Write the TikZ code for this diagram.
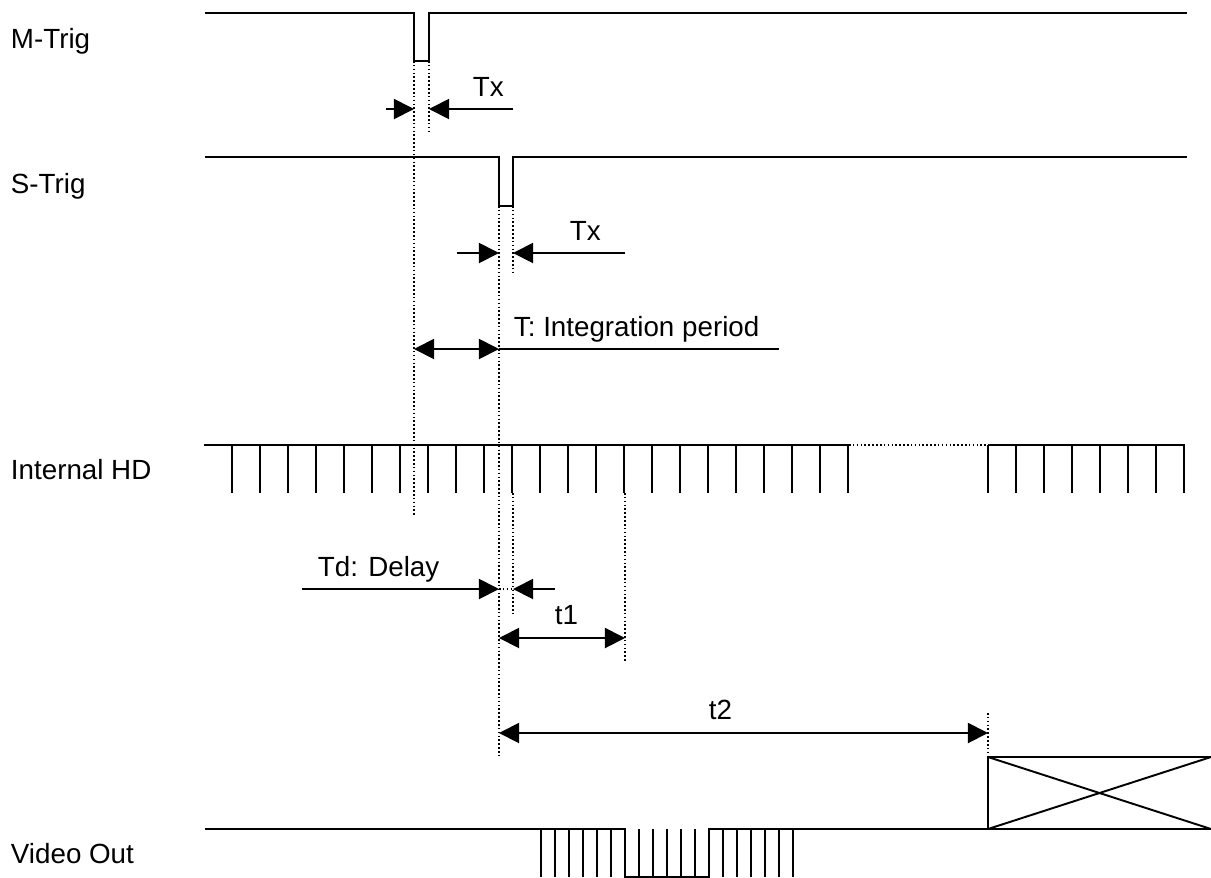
\documentclass[tikz,border=0pt]{standalone}
\usepackage{fontspec}
\setmainfont{Liberation Sans}
\usetikzlibrary{arrows.meta}

\begin{document}
\begin{tikzpicture}[x=0.02cm,y=-0.02cm,line width=1.1pt,>={Triangle[length=11.5pt,width=11.5pt]}]
   \useasboundingbox (0,0) rectangle (1211,877);
   \tikzstyle{label}=[anchor=base west, inner sep=0pt, font=\fontsize{15.8}{18}\selectfont]
   \tikzstyle{guide}=[dash pattern=on 0.9pt off 1.3pt, line width=0.9pt]
   \node[label] (mtrig) at (10,48) {M-Trig};
   \node[label] (strig) at (10,193) {S-Trig};
   \node[label] (hd) at (10,479) {Internal HD};
   \node[label] (video) at (10,863) {Video Out};
   \draw (205,13) -- (414,13) -- (414,61) -- (429,61) -- (429,13) -- (1187,13);
   \draw (205,157) -- (499,157) -- (499,206) -- (513,206) -- (513,157) -- (1187,157);
   \draw[guide] (414,61) -- (414,515);
   \draw[guide] (429,61) -- (429,131);
   \draw[guide] (499,206) -- (499,755);
   \draw[guide] (513,206) -- (513,275);
   \draw[guide] (513,493) -- (513,613);
   \draw[guide] (625,493) -- (625,662);
   \draw[guide] (988,713) -- (988,757);
   \node[label] (tx1) at (472,96) {Tx};
   \draw[->] (386,109) -- (414,109);
   \draw[->] (513,109) -- (429,109);
   \node[label] (tx2) at (569,240) {Tx};
   \draw[->] (457,253) -- (499,253);
   \draw[->] (625,253) -- (513,253);
   \node[label] (integ) at (513,336) {T: Integration period};
   \draw[<->] (414,349) -- (499,349);
   \draw (499,349) -- (779,349);
   \draw (204,445) -- (849,445);
   \foreach \i in {1,...,23} \draw (204+28*\i,445) -- (204+28*\i,493);
   \draw[guide] (849,445) -- (988,445);
   \draw (988,445) -- (1185,445);
   \foreach \i in {0,...,7} \draw (988+28*\i,445) -- (988+28*\i,493);
   \node[label] (delay) at (317,576) {Td: Delay};
   \draw[->] (302,589) -- (499,589);
   \draw[->] (555,589) -- (513,589);
   \draw[guide] (499,589) -- (513,589);
   \node[label] (t1) at (554,624) {t1};
   \draw[<->] (499,638) -- (625,638);
   \node[label] (t2) at (708,719) {t2};
   \draw[<->] (499,733) -- (988,733);
   \draw (205,829) -- (625,829) -- (625,877) -- (709,877) -- (709,829) -- (988,829);
   \foreach \x in {541,555,...,611} \draw (\x,829) -- (\x,877);
   \foreach \x in {639,653,...,695} \draw (\x,829) -- (\x,877);
   \foreach \x in {723,737,...,793} \draw (\x,829) -- (\x,877);
   \draw (988,829) -- (988,757) -- (1211,757);
   \draw (988,829) -- (1211,829);
   \draw (988,757) -- (1211,829);
   \draw (988,829) -- (1211,757);
\end{tikzpicture}
\end{document}
